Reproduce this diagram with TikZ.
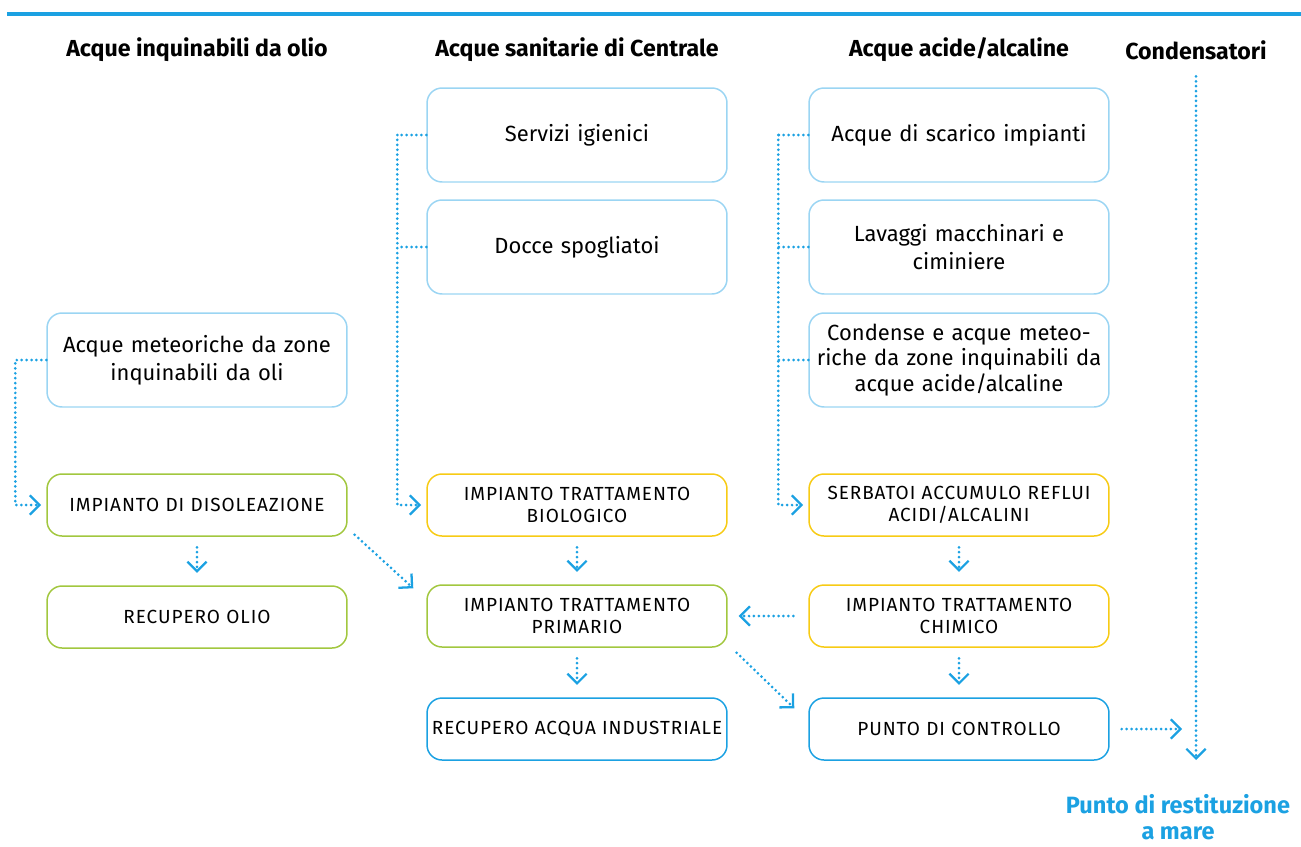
\documentclass[tikz,border=0pt]{standalone}
\usepackage{fontspec}
\setmainfont{Fira Sans}
\newfontfamily\capsfont[LetterSpace=5]{Fira Sans}
\usetikzlibrary{arrows.meta}
\definecolor{lineblue}{HTML}{1BA1E2}
\definecolor{paleblue}{HTML}{9BD5F3}
\definecolor{boxgreen}{HTML}{A2C73F}
\definecolor{boxyellow}{HTML}{F7CB15}
\begin{document}
\begin{tikzpicture}
[x=0.02cm,y=-0.02cm,
  box/.style={align=center,rounded corners=0.3cm,line width=0.85pt,minimum width=6cm,inner xsep=0pt},
  src/.style={box,draw=paleblue,minimum height=1.88cm,text width=5.9cm,font=\fontsize{12.5}{16}\selectfont},
  plant/.style={box,minimum height=1.24cm,text width=5.95cm,font=\capsfont\fontsize{10.8}{12.5}\selectfont},
  head/.style={align=center,font=\bfseries\fontsize{13.2}{15}\selectfont},
  link/.style={lineblue,line width=1.7pt,dash pattern=on 0pt off 2.8pt,line cap=round},
  flow/.style={link,-{Straight Barb[length=5.5pt,width=11pt,line width=1.3pt]}},
  down/.style={flow,shorten <=6pt,shorten >=7pt}]
\useasboundingbox (0,0) rectangle (1301,846);
\draw[lineblue,line width=2pt] (7,14) -- (1301,14);
\node[head] (hoil) at (197,50) {Acque inquinabili da olio};
\node[head] (hsan) at (577,50) {Acque sanitarie di Centrale};
\node[head] (hacid) at (959,50) {Acque acide/alcaline};
\node[head] (condenser) at (1196,50) {Condensatori};
\node[head,text=lineblue,font=\bfseries\fontsize{13.4}{14.6}\selectfont] (sea) at (1178,817) {Punto di restituzione\\a mare};
\node[src] (rain) at (197,360) {Acque meteoriche da zone\\inquinabili da oli};
\node[plant,draw=boxgreen] (oil) at (197,505) {IMPIANTO DI DISOLEAZIONE};
\node[plant,draw=boxgreen] (oilrec) at (197,617) {RECUPERO OLIO};
\node[src] (wc) at (577,135) {Servizi igienici};
\node[src] (shower) at (577,247) {Docce spogliatoi};
\node[plant,draw=boxyellow] (bio) at (577,505) {IMPIANTO TRATTAMENTO\\BIOLOGICO};
\node[plant,draw=boxgreen] (primary) at (577,616) {IMPIANTO TRATTAMENTO\\PRIMARIO};
\node[plant,draw=lineblue] (waterrec) at (577,729) {RECUPERO ACQUA INDUSTRIALE};
\node[src] (drain) at (959,135) {Acque di scarico impianti};
\node[src] (wash) at (959,247) {Lavaggi macchinari e\\ciminiere};
\node[src,font=\fontsize{12.5}{14.5}\selectfont] (damp) at (959,360) {Condense e acque meteo-\\riche da zone inquinabili da\\acque acide/alcaline};
\node[plant,draw=boxyellow] (tanks) at (959,505) {SERBATOI ACCUMULO REFLUI\\ACIDI/ALCALINI};
\node[plant,draw=boxyellow] (chem) at (959,616) {IMPIANTO TRATTAMENTO\\CHIMICO};
\node[plant,draw=lineblue] (control) at (959,729) {PUNTO DI CONTROLLO};
\draw[flow,shorten >=3pt] (rain.west) -- ++(-31,0) |- (oil.west);
\draw[link] (wc.west) -- ++(-29,0) coordinate (c2);
\draw[link] (shower.west) -- ++(-29,0);
\draw[flow,shorten >=3pt] (c2) |- (bio.west);
\draw[link] (drain.west) -- ++(-30,0) coordinate (c3);
\draw[link] (wash.west) -- ++(-30,0);
\draw[link] (damp.west) -- ++(-30,0);
\draw[flow,shorten >=3pt] (c3) |- (tanks.west);
\draw[down] (oil) -- (oilrec);
\draw[down] (bio) -- (primary);
\draw[down] (primary) -- (waterrec);
\draw[down] (tanks) -- (chem);
\draw[down] (chem) -- (control);
\draw[flow] ([shift={(7,-2)}]oil.south east) -- ([shift={(-13,4)}]primary.north west);
\draw[flow] ([shift={(-15,0)}]chem.west) -- ([shift={(11,0)}]primary.east);
\draw[flow] ([shift={(9,5)}]primary.south east) -- ([shift={(-14,11)}]control.north west);
\draw[flow] ([yshift=-6pt]condenser.south) -- (1196,760) coordinate (outlet);
\draw[flow] ([shift={(12,0)}]control.east) -- ([shift={(-14,0)}]outlet |- control.east);
\end{tikzpicture}
\end{document}
